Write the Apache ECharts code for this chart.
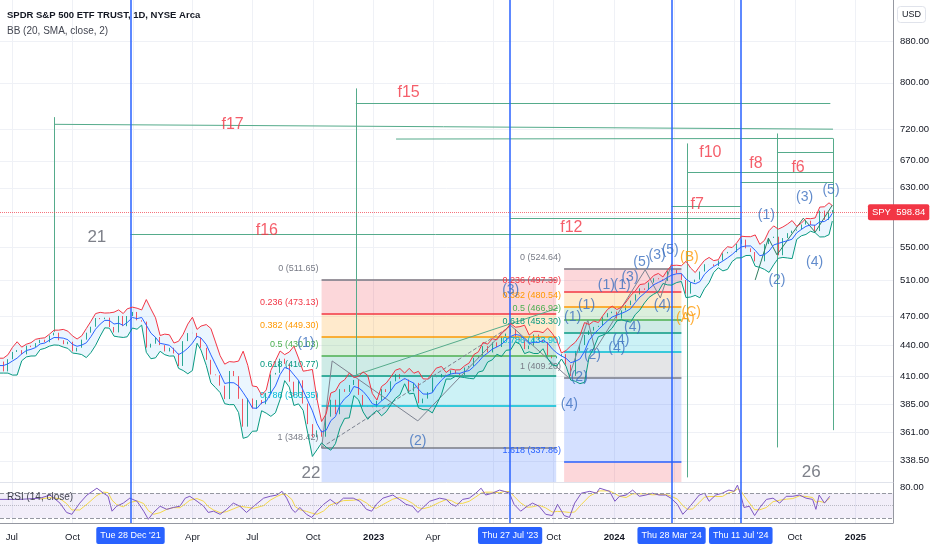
<!DOCTYPE html>
<html>
<head>
<meta charset="utf-8">
<title>SPY 1D</title>
<script src="https://cdn.jsdelivr.net/npm/echarts@6/dist/echarts.min.js"></script>
<style>
  html, body { margin: 0; padding: 0; background: #fff; }
  #main { width: 932px; height: 550px; }
</style>
</head>
<body>
<div id="main"></div>
<script>
// weekly closes of SPY
const weekDates = [
  '2021-05-21','2021-05-28','2021-06-04','2021-06-11','2021-06-18','2021-06-25','2021-07-02','2021-07-09','2021-07-16','2021-07-23','2021-07-30',
  '2021-08-06','2021-08-13','2021-08-20','2021-08-27','2021-09-03','2021-09-10','2021-09-17','2021-09-24','2021-10-01','2021-10-08','2021-10-15',
  '2021-10-22','2021-10-29','2021-11-05','2021-11-12','2021-11-19','2021-11-26','2021-12-03','2021-12-10','2021-12-17','2021-12-23','2021-12-31',
  '2022-01-07','2022-01-14','2022-01-21','2022-01-28','2022-02-04','2022-02-11','2022-02-18','2022-02-25','2022-03-04','2022-03-11','2022-03-18',
  '2022-03-25','2022-04-01','2022-04-08','2022-04-14','2022-04-22','2022-04-29','2022-05-06','2022-05-13','2022-05-20','2022-05-27','2022-06-03',
  '2022-06-10','2022-06-17','2022-06-24','2022-07-01','2022-07-08','2022-07-15','2022-07-22','2022-07-29','2022-08-05','2022-08-12','2022-08-19',
  '2022-08-26','2022-09-02','2022-09-09','2022-09-16','2022-09-23','2022-09-30','2022-10-07','2022-10-14','2022-10-21','2022-10-28','2022-11-04',
  '2022-11-11','2022-11-18','2022-11-25','2022-12-02','2022-12-09','2022-12-16','2022-12-23','2022-12-30',
  '2023-01-06','2023-01-13','2023-01-20','2023-01-27','2023-02-03','2023-02-10','2023-02-17','2023-02-24','2023-03-03','2023-03-10','2023-03-17',
  '2023-03-24','2023-03-31','2023-04-06','2023-04-14','2023-04-21','2023-04-28','2023-05-05','2023-05-12','2023-05-19','2023-05-26','2023-06-02',
  '2023-06-09','2023-06-16','2023-06-23','2023-06-30','2023-07-07','2023-07-14','2023-07-21','2023-07-28','2023-08-04','2023-08-11','2023-08-18',
  '2023-08-25','2023-09-01','2023-09-08','2023-09-15','2023-09-22','2023-09-29','2023-10-06','2023-10-13','2023-10-20','2023-10-27','2023-11-03',
  '2023-11-10','2023-11-17','2023-11-24','2023-12-01','2023-12-08','2023-12-15','2023-12-22','2023-12-29',
  '2024-01-05','2024-01-12','2024-01-19','2024-01-26','2024-02-02','2024-02-09','2024-02-16','2024-02-23','2024-03-01','2024-03-08','2024-03-15',
  '2024-03-22','2024-03-28','2024-04-05','2024-04-12','2024-04-19','2024-04-26','2024-05-03','2024-05-10','2024-05-17','2024-05-24','2024-05-31',
  '2024-06-07','2024-06-14','2024-06-21','2024-06-28','2024-07-05','2024-07-12','2024-07-19','2024-07-26','2024-08-02','2024-08-09','2024-08-16',
  '2024-08-23','2024-08-30','2024-09-06','2024-09-13','2024-09-20','2024-09-27','2024-10-04','2024-10-11','2024-10-18','2024-10-25','2024-11-01',
  '2024-11-08','2024-11-15','2024-11-22','2024-11-27'
];
const weekClose = [
  414.9,420.0,422.6,424.3,414.9,426.6,433.7,435.5,431.3,439.9,438.5,
  442.5,445.9,443.4,450.3,453.1,445.4,441.4,443.9,434.2,437.9,446.0,
  453.1,459.3,468.5,467.3,468.9,459.0,453.4,470.7,459.9,470.6,475.0,
  466.1,464.7,438.0,441.9,448.7,440.5,434.2,437.8,432.2,420.1,444.5,
  452.7,452.9,447.6,437.8,426.0,412.0,411.3,401.7,389.6,415.3,410.5,
  389.8,365.9,390.1,381.2,388.7,385.1,395.1,412.0,413.5,427.1,422.1,
  405.3,392.2,406.6,385.6,368.0,357.2,362.8,357.6,374.3,389.0,376.4,
  398.5,396.0,402.3,406.9,393.3,383.3,382.9,382.4,
  388.1,398.5,395.9,405.7,412.4,408.0,407.3,396.4,404.2,385.9,390.0,
  395.8,409.4,409.2,412.5,412.2,415.9,412.6,411.6,418.6,420.0,427.9,
  429.9,439.5,433.2,443.3,438.6,449.3,452.2,456.9,446.8,445.7,436.5,
  440.0,451.2,445.5,443.4,430.4,427.5,429.5,431.5,421.2,410.7,434.7,
  440.6,450.8,455.3,459.1,460.2,469.3,473.7,475.3,
  467.9,476.7,482.4,487.4,494.4,501.2,499.5,507.9,512.9,511.7,509.8,
  521.2,523.1,518.4,510.9,495.2,508.3,511.3,520.8,529.5,529.4,527.4,
  534.0,542.8,544.5,544.2,554.6,560.0,549.0,544.4,532.9,533.0,554.3,
  562.1,563.7,540.4,562.0,568.3,571.5,573.0,579.6,584.6,579.0,571.0,
  598.2,585.8,595.5,598.84
];
const lastPrice = 598.84;

// RSI (14)
const rsiDates = [
  '2021-06-13','2021-07-13','2021-08-13','2021-08-28','2021-09-12','2021-09-22','2021-09-30','2021-10-12','2021-10-23','2021-11-07',
  '2021-11-17','2021-11-24','2021-11-30','2021-12-07','2021-12-17','2021-12-27','2022-01-07','2022-01-17','2022-01-24','2022-02-01',
  '2022-02-11','2022-02-21','2022-03-03','2022-03-13','2022-03-21','2022-03-28','2022-04-08','2022-04-18','2022-04-25','2022-05-03',
  '2022-05-13','2022-05-23','2022-06-02','2022-06-12','2022-06-22','2022-07-03','2022-07-18','2022-07-28','2022-08-07','2022-08-15',
  '2022-08-22','2022-08-30','2022-09-04','2022-09-11','2022-09-21','2022-09-29','2022-10-07','2022-10-17','2022-10-27','2022-11-06',
  '2022-11-16','2022-12-01','2022-12-11','2022-12-21','2022-12-29','2023-01-05','2023-01-15','2023-01-30','2023-02-09','2023-02-19',
  '2023-03-01','2023-03-09','2023-03-17','2023-03-27','2023-04-11','2023-04-21','2023-04-29','2023-05-06','2023-05-16','2023-05-26',
  '2023-06-05','2023-06-13','2023-06-20','2023-06-30','2023-07-11','2023-07-18','2023-07-26','2023-08-02','2023-08-12','2023-08-22',
  '2023-08-30','2023-09-09','2023-09-19','2023-09-29','2023-10-07','2023-10-17','2023-10-25','2023-11-02','2023-11-12','2023-11-25',
  '2023-12-05','2023-12-10','2023-12-25','2024-01-02','2024-01-09','2024-01-19','2024-01-29','2024-02-08','2024-02-18','2024-02-28',
  '2024-03-09','2024-03-19','2024-03-27','2024-04-06','2024-04-14','2024-04-21','2024-04-29','2024-05-09','2024-05-17','2024-05-24',
  '2024-06-03','2024-06-13','2024-06-23','2024-07-01','2024-07-06','2024-07-11','2024-07-16','2024-07-24','2024-08-01','2024-08-09',
  '2024-08-19','2024-08-29','2024-09-08','2024-09-18','2024-09-28','2024-10-08','2024-10-18','2024-10-28','2024-11-02','2024-11-07',
  '2024-11-15','2024-11-23'
];
const rsiValues = [
  60,60,62,67,54,39,36,54,67,78,
  70,65,41,49,54,62,57,41,28,39,
  49,44,47,49,62,65,57,49,39,41,
  36,44,54,49,39,49,62,65,67,73,
  62,44,39,47,36,31,41,52,60,52,
  62,62,57,44,41,52,62,67,60,52,
  49,39,47,57,62,60,52,49,60,62,
  70,78,67,70,75,73,70,52,41,49,
  54,49,36,34,52,34,31,54,70,73,
  70,78,73,57,65,67,75,65,67,70,
  67,67,62,52,36,44,54,67,70,57,
  67,70,75,73,83,67,47,49,34,47,
  60,62,54,65,65,67,62,60,44,67,
  54,65
];

// price axis ticks and time axis ticks
const priceTicks = [338.5, 361, 385, 410, 440, 470, 510, 550, 590, 630, 670, 720, 800, 880];
const priceTickLabels = [338.5, 361, 385, 410, 440, 470, 510, 550, 630, 670, 720, 800, 880];
const quarterDates = ['2021-07-01','2021-10-01','2022-01-01','2022-04-01','2022-07-01','2022-10-01','2023-01-01',
  '2023-04-01','2023-07-01','2023-10-01','2024-01-01','2024-04-01','2024-07-01','2024-10-01','2025-01-01'];
const timeLabelDates = ['2021-07-01','2021-10-01','2022-04-01','2022-07-01','2022-10-01','2023-01-01',
  '2023-04-01','2023-10-01','2024-01-01','2024-10-01','2025-01-01'];
const rsiTickLabels = [80];

// blue vertical markers
const markerDates = ['2021-12-28', '2023-07-27', '2024-03-28', '2024-07-11'];
const markerTexts = ["Tue 28 Dec '21", "Thu 27 Jul '23", "Thu 28 Mar '24", "Thu 11 Jul '24"];

// fib retracements (levels as printed on the chart)
const fibRatioText = ['0', '0.236', '0.382', '0.5', '0.618', '0.786', '1', '1.618'];
const fibAStart = '2022-10-14', fibAEnd = '2023-10-05';
const fibALevels = [511.65, 473.13, 449.30, 430.03, 410.77, 383.35, 348.42];
const fibBStart = '2023-10-17', fibBEnd = '2024-04-12';
const fibBLevels = [524.64, 497.39, 480.54, 466.92, 453.30, 433.90, 409.20, 337.86];

// green drawing lines: [date1, price1, date2, price2]
const greenLines = [
  ['2021-09-03', 740, '2021-09-03', 454],
  ['2021-09-03', 728, '2024-11-28', 720],
  ['2023-02-04', 704, '2024-11-28', 705],
  ['2022-12-05', 790, '2022-12-05', 412],
  ['2022-12-05', 764, '2024-11-24', 764],
  ['2021-12-28', 567, '2024-07-11', 567],
  ['2023-07-27', 588, '2024-07-11', 588],
  ['2024-03-28', 604.3, '2024-07-11', 604.3],
  ['2024-04-21', 697, '2024-04-21', 326],
  ['2024-04-21', 653, '2024-11-28', 653],
  ['2024-07-11', 638, '2024-11-28', 638],
  ['2024-09-04', 713, '2024-09-04', 349],
  ['2024-09-04', 683, '2024-11-28', 683],
  ['2024-11-28', 705, '2024-11-28', 363]
];
const grayWave = [['2022-10-14', 348.4], ['2022-10-30', 424.9], ['2023-03-09', 370.7], ['2023-07-27', 461.2], ['2023-10-24', 408.9],
  ['2023-11-22', 466.3], ['2023-12-03', 435.6], ['2024-02-17', 522.8], ['2024-03-11', 490.3], ['2024-03-28', 529.9]];
const greenWave = [['2024-08-02', 510.9], ['2024-08-22', 561.9], ['2024-09-04', 541.0], ['2024-10-14', 588.0], ['2024-11-01', 569.6], ['2024-11-27', 605.7]];
const dashedTrend = [['2022-10-14', 349], ['2023-07-27', 459.5]];
const greenTrend = [['2022-12-05', 411.6], ['2023-10-08', 479.3]];

// text drawings: [text, date, price]
const fTexts = [
  ['f17', '2022-06-01', 728], ['f15', '2023-02-23', 783], ['f16', '2022-07-23', 571], ['f12', '2023-10-28', 575],
  ['f10', '2024-05-26', 682], ['f7', '2024-05-06', 607], ['f8', '2024-08-03', 666], ['f6', '2024-10-06', 659]
];
const countTexts = [['21', '2021-11-07', 563], ['22', '2022-09-28', 329.4], ['26', '2024-10-26', 330]];
const waveTexts = [
  ['(1)', '2022-09-20', 442.6], ['(2)', '2023-03-09', 354.2], ['(3)', '2023-07-28', 499.5], ['(4)', '2023-10-25', 385.3],
  ['(1)', '2023-10-30', 469.5], ['(1)', '2023-11-20', 482.5], ['(2)', '2023-11-29', 430.7], ['(2)', '2023-11-09', 409.8],
  ['(1)', '2023-12-20', 505], ['(1)', '2024-01-13', 505], ['(3)', '2024-01-25', 514.5], ['(5)', '2024-02-12', 532.4],
  ['(3)', '2024-03-06', 541], ['(5)', '2024-03-26', 547.2], ['(4)', '2024-03-14', 482.5], ['(4)', '2024-01-29', 459.1],
  ['(4)', '2024-01-11', 445.6], ['(4)', '2024-01-05', 437.6],
  ['(1)', '2024-08-19', 592.4], ['(2)', '2024-09-04', 510.9], ['(3)', '2024-10-16', 616.8], ['(4)', '2024-10-31', 532.4], ['(5)', '2024-11-25', 626.8]
];
const correctionTexts = [['(B)', '2024-04-24', 538.5], ['(A)', '2024-04-18', 468.5], ['(C)', '2024-04-27', 474.9]];

// ---------- helpers ----------
const FONT = '"Liberation Sans", Arial, sans-serif';
const L = Math.log;
const ts = s => { const p = s.split('-'); return new Date(+p[0], +p[1] - 1, +p[2]).getTime(); };
const X_MIN = ts('2021-06-13'), X_MAX = ts('2025-02-27');
const P_MIN = 322.6, P_MAX = 966;
const MON = ['Jan','Feb','Mar','Apr','May','Jun','Jul','Aug','Sep','Oct','Nov','Dec'];
const fibColors = ['#787b86', '#f23645', '#ff9800', '#4caf50', '#089981', '#00bcd4', '#787b86', '#2962ff', '#f23645'];
const fibFills = ['rgba(120,123,134,0.2)', 'rgba(242,54,69,0.2)', 'rgba(255,152,0,0.2)', 'rgba(76,175,80,0.2)', 'rgba(8,153,129,0.2)',
  'rgba(0,188,212,0.2)', 'rgba(120,123,134,0.2)', 'rgba(41,98,255,0.2)', 'rgba(242,54,69,0.2)'];

function bollinger(vals, n, k) {
  const up = [], mid = [], lo = [];
  for (let i = 0; i < vals.length; i++) {
    if (i < n - 1) { up.push(null); mid.push(null); lo.push(null); continue; }
    const w = vals.slice(i - n + 1, i + 1);
    const m = w.reduce((a, b) => a + b, 0) / n;
    const sd = Math.sqrt(w.reduce((a, b) => a + (b - m) * (b - m), 0) / n);
    up.push(m + k * sd); mid.push(m); lo.push(m - k * sd);
  }
  return { up, mid, lo };
}
function sma(vals, n) {
  return vals.map((v, i) => i < n - 1 ? null : vals.slice(i - n + 1, i + 1).reduce((a, b) => a + b, 0) / n);
}

// weekly bars, BB(20d ~ 4 weeks, 2)
const bb = bollinger(weekClose, 4, 2);
const candles = weekClose.map((c, i) => {
  const o = i ? weekClose[i - 1] : c;
  return [ts(weekDates[i]), L(o), L(c), L(Math.min(o, c)), L(Math.max(o, c))];
});
const lineOf = arr => weekDates.map((d, i) => [ts(d), arr[i] == null ? null : L(arr[i])]);
const rsiMa = sma(rsiValues, 3);

function seg(a, b, style) {
  return [{ coord: [ts(a[0]), L(a[1])], lineStyle: style }, { coord: [ts(b[0]), L(b[1])] }];
}
function pathSegs(path, style) {
  const out = [];
  for (let i = 1; i < path.length; i++) out.push(seg(path[i - 1], path[i], style));
  return out;
}

// fib lines, labels (sitting just above each line, left of the box) and zones
function fibMarks(start, end, levels) {
  const lines = [], areas = [];
  levels.forEach((p, i) => {
    lines.push([
      { coord: [ts(start), L(p)], lineStyle: { color: fibColors[i], width: 1.5, type: 'solid' },
        label: { show: true, position: 'start', distance: 3,
                 formatter: '{t|' + fibRatioText[i] + ' (' + p.toFixed(2) + ')}\n{g| }',
                 rich: { t: { color: fibColors[i], fontSize: 9, lineHeight: 11 }, g: { fontSize: 9, lineHeight: 22 } } } },
      { coord: [ts(end), L(p)] }
    ]);
    const next = i + 1 < levels.length ? levels[i + 1] : P_MIN;
    areas.push([
      { coord: [ts(start), L(p)], itemStyle: { color: fibFills[i + 1] } },
      { coord: [ts(end), L(Math.max(next, P_MIN))] }
    ]);
  });
  return { lines, areas };
}
const fibA = fibMarks(fibAStart, fibAEnd, fibALevels);
const fibB = fibMarks(fibBStart, fibBEnd, fibBLevels);

const green = { color: '#55ab8b', width: 1, type: 'solid' };
const drawingLines = []
  .concat(greenLines.map(s => seg([s[0], s[1]], [s[2], s[3]], green)))
  .concat(pathSegs(grayWave, { color: '#7d8391', width: 1, type: 'solid' }))
  .concat(pathSegs(greenWave, { color: '#2f7d5f', width: 1, type: 'solid' }))
  .concat(pathSegs(dashedTrend, { color: '#7d8391', width: 1, type: 'dashed' }))
  .concat(pathSegs(greenTrend, { color: '#55ab8b', width: 1, type: 'solid' }));

function textSeries(items, color, size) {
  return {
    type: 'scatter', xAxisIndex: 0, yAxisIndex: 0, symbolSize: 1, silent: true, z: 8,
    itemStyle: { color: 'rgba(0,0,0,0)' },
    data: items.map(d => ({ value: [ts(d[1]), L(d[2])], name: d[0] })),
    label: { show: true, position: 'inside', formatter: '{b}', color: color, fontSize: size, fontFamily: FONT }
  };
}

const chart = echarts.init(document.getElementById('main'));
chart.setOption({
  animation: false,
  backgroundColor: '#ffffff',
  textStyle: { fontFamily: FONT },
  title: [
    { text: 'SPDR S&P 500 ETF TRUST, 1D, NYSE Arca', subtext: 'BB (20, SMA, close, 2)', left: 2, top: 5, itemGap: 6,
      textStyle: { fontSize: 9.5, fontWeight: 'bold', color: '#131722', fontFamily: FONT },
      subtextStyle: { fontSize: 10, color: '#434651', fontFamily: FONT } },
    { text: 'RSI (14, close)', left: 2, top: 487,
      textStyle: { fontSize: 10, fontWeight: 'normal', color: '#434651', fontFamily: FONT } },
    { text: 'USD', right: 6, top: 6, padding: [4, 5], borderColor: '#e0e3eb', borderWidth: 1, borderRadius: 3,
      textStyle: { fontSize: 9, fontWeight: 'normal', color: '#131722', fontFamily: FONT } }
  ],
  grid: [
    { left: 0, right: 39, top: 0, height: 482 },
    { left: 0, right: 39, top: 482, height: 41 }
  ],
  xAxis: [
    { type: 'value', gridIndex: 0, min: X_MIN, max: X_MAX,
      axisLine: { show: true, lineStyle: { color: '#e0e3eb' } },
      axisTick: { show: false, customValues: quarterDates.map(ts) },
      axisLabel: { show: false },
      splitLine: { show: true, lineStyle: { color: '#eff1f6' } } },
    { type: 'value', gridIndex: 1, min: X_MIN, max: X_MAX,
      axisLine: { show: true, lineStyle: { color: '#9598a1' } },
      axisTick: { show: false, customValues: quarterDates.map(ts) },
      axisLabel: { customValues: timeLabelDates.map(ts), color: '#131722', fontSize: 9.5, margin: 9,
        formatter: v => { const d = new Date(v); return d.getMonth() === 0 ? '{y|' + d.getFullYear() + '}' : MON[d.getMonth()]; },
        rich: { y: { fontWeight: 'bold', fontSize: 9.5, color: '#131722' } } },
      splitLine: { show: true, lineStyle: { color: '#eff1f6' } } }
  ],
  yAxis: [
    { type: 'value', gridIndex: 0, position: 'right', min: L(P_MIN), max: L(P_MAX),
      axisLine: { show: true, lineStyle: { color: '#9598a1' } },
      axisTick: { show: false, customValues: priceTicks.map(L) },
      axisLabel: { customValues: priceTickLabels.map(L), formatter: v => Math.exp(v).toFixed(2),
        color: '#131722', fontSize: 9.5, margin: 7 },
      splitLine: { show: true, lineStyle: { color: '#eff1f6' } } },
    { type: 'value', gridIndex: 1, position: 'right', min: 22, max: 88,
      axisLine: { show: true, lineStyle: { color: '#9598a1' } },
      axisTick: { show: false },
      axisLabel: { customValues: rsiTickLabels, formatter: v => v.toFixed(2), color: '#131722', fontSize: 9.5, margin: 7 },
      splitLine: { show: false } }
  ],
  series: [
    { // BB background fill
      type: 'custom', xAxisIndex: 0, yAxisIndex: 0, silent: true, z: 1, clip: true, data: [[X_MIN, L(500)]],
      renderItem: (params, api) => {
        const pts = [];
        for (let i = 0; i < weekDates.length; i++) if (bb.up[i] != null) pts.push(api.coord([ts(weekDates[i]), L(bb.up[i])]));
        for (let i = weekDates.length - 1; i >= 0; i--) if (bb.lo[i] != null) pts.push(api.coord([ts(weekDates[i]), L(bb.lo[i])]));
        return { type: 'polygon', shape: { points: pts }, style: { fill: 'rgba(33,150,243,0.09)' } };
      }
    },
    { // fib retracements
      type: 'line', xAxisIndex: 0, yAxisIndex: 0, data: [], z: 2, silent: true,
      markArea: { silent: true, data: fibA.areas.concat(fibB.areas) },
      markLine: { silent: true, symbol: ['none', 'none'], data: fibA.lines.concat(fibB.lines) }
    },
    { // trend lines and wave connectors
      type: 'line', xAxisIndex: 0, yAxisIndex: 0, data: [], z: 3, silent: true,
      markLine: { silent: true, symbol: ['none', 'none'], label: { show: false }, data: drawingLines }
    },
    { name: 'SPY', type: 'candlestick', xAxisIndex: 0, yAxisIndex: 0, data: candles, barWidth: 1, z: 4,
      itemStyle: { color: '#089981', color0: '#f23645', borderColor: '#089981', borderColor0: '#f23645', borderWidth: 1, opacity: 0.85 },
      markLine: { silent: true, symbol: ['none', 'none'], label: { show: false },
        lineStyle: { color: '#2962ff', width: 1.5, type: 'solid' },
        data: markerDates.map(d => ({ xAxis: ts(d) })) } },
    { type: 'line', xAxisIndex: 0, yAxisIndex: 0, data: lineOf(bb.up), showSymbol: false, z: 5,
      lineStyle: { color: '#f23645', width: 1 } },
    { type: 'line', xAxisIndex: 0, yAxisIndex: 0, data: lineOf(bb.mid), showSymbol: false, z: 5,
      lineStyle: { color: '#2962ff', width: 1 } },
    { type: 'line', xAxisIndex: 0, yAxisIndex: 0, data: lineOf(bb.lo), showSymbol: false, z: 5,
      lineStyle: { color: '#089981', width: 1 } },
    { // last price line + tag
      type: 'line', xAxisIndex: 0, yAxisIndex: 0, data: [], z: 9, silent: true,
      markLine: { silent: true, symbol: ['none', 'none'],
        lineStyle: { color: 'rgba(242,54,69,0.7)', width: 1, type: 'dotted' },
        label: { show: true, position: 'end', distance: -25, formatter: 'SPY  ' + lastPrice.toFixed(2),
          backgroundColor: '#f23645', color: '#ffffff', fontSize: 9.5, padding: [3, 4], borderRadius: 2 },
        data: [{ yAxis: L(lastPrice) }] } },
    textSeries(fTexts, '#f23645', 16),
    textSeries(countTexts, '#5d606b', 17),
    textSeries(waveTexts, '#3b6fbf', 14),
    textSeries(correctionTexts, '#ff9800', 14),
    { name: 'RSI', type: 'line', xAxisIndex: 1, yAxisIndex: 1, showSymbol: false, z: 4,
      data: rsiDates.map((d, i) => [ts(d), rsiValues[i]]),
      lineStyle: { color: '#7e57c2', width: 1 },
      markArea: { silent: true, itemStyle: { color: 'rgba(126,87,194,0.1)' }, data: [[{ yAxis: 70 }, { yAxis: 30 }]] },
      markLine: { silent: true, symbol: ['none', 'none'], label: { show: false },
        data: [
          { yAxis: 70, lineStyle: { color: '#9598a1', type: 'dashed', width: 1 } },
          { yAxis: 50, lineStyle: { color: 'rgba(149,152,161,0.6)', type: 'dotted', width: 1 } },
          { yAxis: 30, lineStyle: { color: '#9598a1', type: 'dashed', width: 1 } }
        ].concat(markerDates.map((d, i) => ({
          xAxis: ts(d), lineStyle: { color: '#2962ff', width: 1.5, type: 'solid' },
          label: { show: true, position: 'start', distance: 4, formatter: markerTexts[i], color: '#ffffff',
            backgroundColor: '#2962ff', padding: [4, 4], fontSize: 9, borderRadius: 2 }
        }))) } },
    { type: 'line', xAxisIndex: 1, yAxisIndex: 1, showSymbol: false, z: 3,
      data: rsiDates.map((d, i) => [ts(d), rsiMa[i]]),
      lineStyle: { color: '#f5d94a', width: 1 } }
  ]
});
</script>
</body>
</html>
